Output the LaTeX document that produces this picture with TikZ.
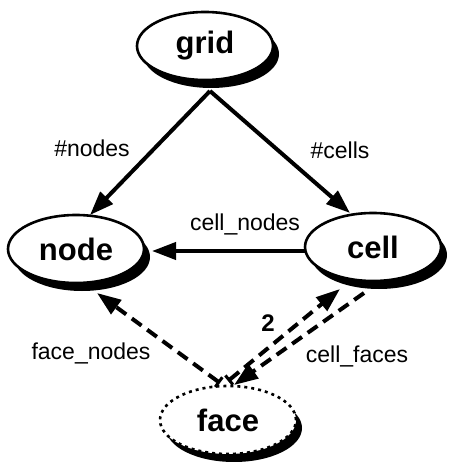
\documentclass[tikz,border=0pt]{standalone}
\usepackage{fontspec}
\setmainfont{Liberation Sans}
\usetikzlibrary{shapes.geometric,shadows,arrows.meta,calc}

\tikzset{
  entity/.style={ellipse, draw=black, line width=2.6pt, fill=white,
    minimum width=136pt, minimum height=68pt, inner sep=0pt,
    font=\bfseries\fontsize{31}{33}\selectfont,
    drop shadow={shadow xshift=6pt, shadow yshift=-8pt, fill=black, opacity=1}},
  dotentity/.style={entity, dash pattern=on 3pt off 4pt},
  tip/.tip={Triangle[length=24pt,width=17pt]},
  rel/.style={line width=4pt, -tip},
  dashrel/.style={rel, dash pattern=on 12pt off 7pt},
  ticked/.style={{Bar[width=12pt,line width=3pt]}-tip},
  lbl/.style={font=\fontsize{23}{25}\selectfont, inner sep=0pt},
  numlbl/.style={font=\bfseries\fontsize{24}{26}\selectfont, inner sep=0pt}
}

\begin{document}
\begin{tikzpicture}[x=1pt, y=-1pt]
  \useasboundingbox (0,0) rectangle (450,462);

  % entities
  \node[entity] (grid) at (205,46) {grid};
  \node[entity] (node) at (76,249) {node};
  \node[entity] (cell) at (373,247) {cell};
  \node[dotentity] (face) at (228,420) {face};

  % counts held by the grid
  \draw[rel] ($(grid)+(5,45)$) -- ($(node)+(14,-34)$);
  \draw[rel] ($(grid)+(5,45)$) -- ($(cell)+(-23,-34)$);

  % cell -> node
  \draw[rel] ($(cell)+(-68,4)$) -- ($(node)+(76,2)$);

  % face relations
  \draw[dashrel, ticked] ($(face)+(-8,-37)$) -- ($(node)+(21,44)$);
  \draw[dashrel, ticked] ($(face)+(0,-39)$) -- ($(cell)+(-33,42)$);
  \draw[dashrel] ($(cell)+(-9,46)$) -- ($(face)+(6,-35)$);

  % labels
  \node[lbl] (lnodes) at (92,148) {\#nodes};
  \node[lbl] (lcells) at (340,150) {\#cells};
  \node[lbl] (lcellnodes) at (245,224) {cell\_nodes};
  \node[lbl] (lfacenodes) at (91,353) {face\_nodes};
  \node[numlbl] (ltwo) at (268,323) {2};
  \node[lbl] (lcellfaces) at (357,356) {cell\_faces};
\end{tikzpicture}
\end{document}
